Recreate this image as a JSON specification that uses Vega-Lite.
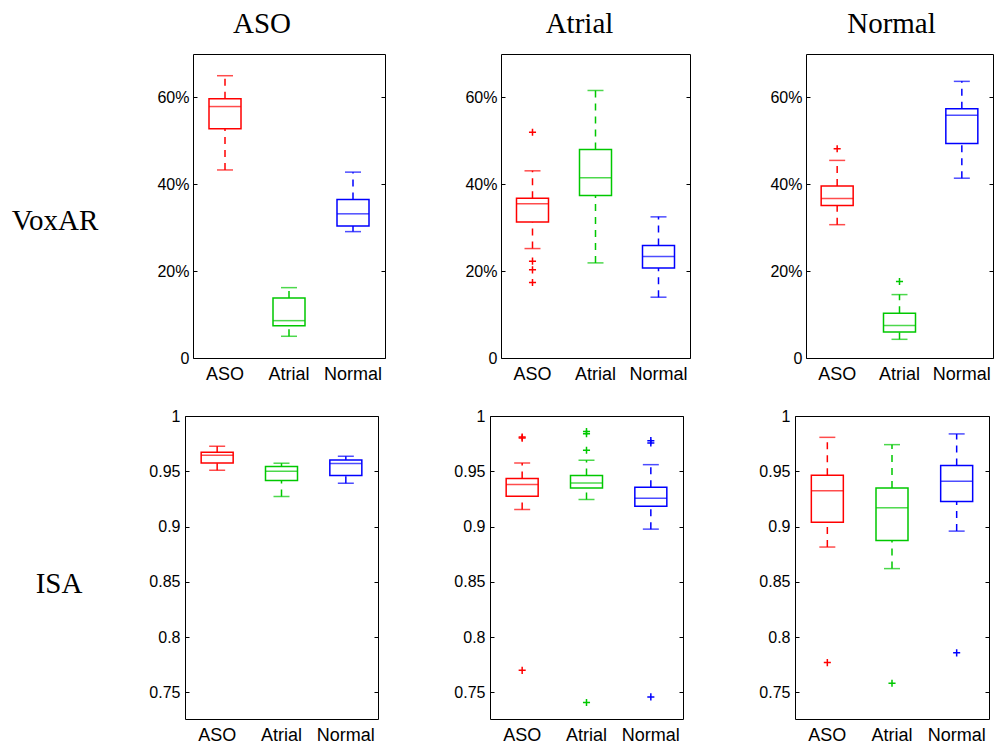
{
  "$schema": "https://vega.github.io/schema/vega-lite/v6.json",
  "padding": {"left": 0, "top": 9, "right": 0, "bottom": 0},
  "background": "white",
  "datasets": {
    "box": [
      {"row": "VoxAR", "col": "ASO", "group": "ASO", "lower": 0.433, "q1": 0.528, "median": 0.579, "q3": 0.597, "upper": 0.650},
      {"row": "VoxAR", "col": "ASO", "group": "Atrial", "lower": 0.050, "q1": 0.074, "median": 0.086, "q3": 0.138, "upper": 0.162},
      {"row": "VoxAR", "col": "ASO", "group": "Normal", "lower": 0.291, "q1": 0.304, "median": 0.332, "q3": 0.365, "upper": 0.428},
      {"row": "VoxAR", "col": "Atrial", "group": "ASO", "lower": 0.252, "q1": 0.313, "median": 0.355, "q3": 0.368, "upper": 0.431},
      {"row": "VoxAR", "col": "Atrial", "group": "Atrial", "lower": 0.219, "q1": 0.374, "median": 0.415, "q3": 0.480, "upper": 0.616},
      {"row": "VoxAR", "col": "Atrial", "group": "Normal", "lower": 0.140, "q1": 0.207, "median": 0.234, "q3": 0.259, "upper": 0.325},
      {"row": "VoxAR", "col": "Normal", "group": "ASO", "lower": 0.307, "q1": 0.351, "median": 0.367, "q3": 0.396, "upper": 0.455},
      {"row": "VoxAR", "col": "Normal", "group": "Atrial", "lower": 0.043, "q1": 0.060, "median": 0.075, "q3": 0.103, "upper": 0.146},
      {"row": "VoxAR", "col": "Normal", "group": "Normal", "lower": 0.414, "q1": 0.494, "median": 0.559, "q3": 0.574, "upper": 0.637},
      {"row": "ISA", "col": "ASO", "group": "ASO", "lower": 0.951, "q1": 0.9576, "median": 0.9645, "q3": 0.9672, "upper": 0.9726},
      {"row": "ISA", "col": "ASO", "group": "Atrial", "lower": 0.9272, "q1": 0.9416, "median": 0.950, "q3": 0.9543, "upper": 0.9573},
      {"row": "ISA", "col": "ASO", "group": "Normal", "lower": 0.9392, "q1": 0.9461, "median": 0.957, "q3": 0.9603, "upper": 0.9636},
      {"row": "ISA", "col": "Atrial", "group": "ASO", "lower": 0.9155, "q1": 0.9275, "median": 0.938, "q3": 0.9434, "upper": 0.9576},
      {"row": "ISA", "col": "Atrial", "group": "Atrial", "lower": 0.9245, "q1": 0.935, "median": 0.9395, "q3": 0.9461, "upper": 0.960},
      {"row": "ISA", "col": "Atrial", "group": "Normal", "lower": 0.8977, "q1": 0.9185, "median": 0.9257, "q3": 0.9356, "upper": 0.956},
      {"row": "ISA", "col": "Normal", "group": "ASO", "lower": 0.8815, "q1": 0.904, "median": 0.9323, "q3": 0.9465, "upper": 0.9807},
      {"row": "ISA", "col": "Normal", "group": "Atrial", "lower": 0.862, "q1": 0.8875, "median": 0.917, "q3": 0.935, "upper": 0.9741},
      {"row": "ISA", "col": "Normal", "group": "Normal", "lower": 0.8959, "q1": 0.9227, "median": 0.941, "q3": 0.9552, "upper": 0.9838}
    ],
    "out": [
      {"row": "VoxAR", "col": "Atrial", "group": "ASO", "value": 0.520},
      {"row": "VoxAR", "col": "Atrial", "group": "ASO", "value": 0.223},
      {"row": "VoxAR", "col": "Atrial", "group": "ASO", "value": 0.203},
      {"row": "VoxAR", "col": "Atrial", "group": "ASO", "value": 0.174},
      {"row": "VoxAR", "col": "Normal", "group": "ASO", "value": 0.482},
      {"row": "VoxAR", "col": "Normal", "group": "Atrial", "value": 0.176},
      {"row": "ISA", "col": "Atrial", "group": "ASO", "value": 0.981},
      {"row": "ISA", "col": "Atrial", "group": "ASO", "value": 0.980},
      {"row": "ISA", "col": "Atrial", "group": "ASO", "value": 0.770},
      {"row": "ISA", "col": "Atrial", "group": "Atrial", "value": 0.986},
      {"row": "ISA", "col": "Atrial", "group": "Atrial", "value": 0.984},
      {"row": "ISA", "col": "Atrial", "group": "Atrial", "value": 0.969},
      {"row": "ISA", "col": "Atrial", "group": "Atrial", "value": 0.741},
      {"row": "ISA", "col": "Atrial", "group": "Normal", "value": 0.9777},
      {"row": "ISA", "col": "Atrial", "group": "Normal", "value": 0.9756},
      {"row": "ISA", "col": "Atrial", "group": "Normal", "value": 0.746},
      {"row": "ISA", "col": "Normal", "group": "ASO", "value": 0.777},
      {"row": "ISA", "col": "Normal", "group": "Atrial", "value": 0.7584},
      {"row": "ISA", "col": "Normal", "group": "Normal", "value": 0.7858}
    ]
  },
  "vconcat": [
    {
      "spacing": 46,
      "hconcat": [
        {
          "width": 110, "height": 306,
          "view": {"stroke": null},
          "data": {"values": [{"label": "VoxAR"}]},
          "mark": {"type": "text", "font": "Liberation Serif", "fontSize": 29, "baseline": "top", "align": "center", "color": "black"},
          "encoding": {"text": {"field": "label", "type": "nominal"}}
        },
        {
          "spacing": 78,
          "hconcat": [
            {
              "width": 192, "height": 304,
              "title": {"text": "ASO", "dx": -27},
              "data": {"name": "box"},
              "transform": [{"filter": "datum.row === 'VoxAR' && datum.col === 'ASO'"}],
              "encoding": {
                "x": {"field": "group", "type": "nominal", "scale": {"domain": ["ASO", "Atrial", "Normal"], "paddingInner": 0, "paddingOuter": 0}, "axis": {"orient": "bottom", "ticks": false, "domain": false, "labelAngle": 0, "labelPadding": 7, "title": null}},
                "color": {"field": "group", "type": "nominal", "scale": {"domain": ["ASO", "Atrial", "Normal"], "range": ["#ff0000", "#00c800", "#0000ff"]}, "legend": null}
              },
              "layer": [
                {"mark": {"type": "rule", "strokeDash": [7, 6], "strokeWidth": 1.5}, "encoding": {"y": {"field": "q3", "type": "quantitative", "scale": {"domain": [0, 0.7], "nice": false, "zero": false}, "axis": {"orient": "left", "values": [0, 0.2, 0.4, 0.6], "labelExpr": "datum.value === 0 ? '0' : format(datum.value, '.0%')", "tickSize": -4, "labelPadding": 8, "domain": false, "grid": false, "title": null}}, "y2": {"field": "upper"}}},
                {"mark": {"type": "rule", "strokeDash": [7, 6], "strokeWidth": 1.5}, "encoding": {"y": {"field": "lower", "type": "quantitative", "axis": {"orient": "right", "values": [0, 0.2, 0.4, 0.6], "labels": false, "tickSize": -4, "domain": false, "grid": false, "title": null}}, "y2": {"field": "q1"}}},
                {"mark": {"type": "tick", "size": 16, "thickness": 1.5}, "encoding": {"y": {"field": "upper", "type": "quantitative", "axis": null}}},
                {"mark": {"type": "tick", "size": 16, "thickness": 1.5}, "encoding": {"y": {"field": "lower", "type": "quantitative", "axis": null}}},
                {"mark": {"type": "bar", "filled": false, "strokeWidth": 1.5, "width": 32}, "encoding": {"y": {"field": "q1", "type": "quantitative", "axis": null}, "y2": {"field": "q3"}}},
                {"mark": {"type": "tick", "size": 32, "thickness": 1.5}, "encoding": {"y": {"field": "median", "type": "quantitative", "axis": null}}}
              ],
              "resolve": {"axis": {"y": "independent"}}
            },
            {
              "width": 189, "height": 304,
              "title": {"text": "Atrial", "dx": -16},
              "data": {"name": "box"},
              "transform": [{"filter": "datum.row === 'VoxAR' && datum.col === 'Atrial'"}],
              "encoding": {
                "x": {"field": "group", "type": "nominal", "scale": {"domain": ["ASO", "Atrial", "Normal"], "paddingInner": 0, "paddingOuter": 0}, "axis": {"orient": "bottom", "ticks": false, "domain": false, "labelAngle": 0, "labelPadding": 7, "title": null}},
                "color": {"field": "group", "type": "nominal", "scale": {"domain": ["ASO", "Atrial", "Normal"], "range": ["#ff0000", "#00c800", "#0000ff"]}, "legend": null}
              },
              "layer": [
                {"mark": {"type": "rule", "strokeDash": [7, 6], "strokeWidth": 1.5}, "encoding": {"y": {"field": "q3", "type": "quantitative", "scale": {"domain": [0, 0.7], "nice": false, "zero": false}, "axis": {"orient": "left", "values": [0, 0.2, 0.4, 0.6], "labelExpr": "datum.value === 0 ? '0' : format(datum.value, '.0%')", "tickSize": -4, "labelPadding": 8, "domain": false, "grid": false, "title": null}}, "y2": {"field": "upper"}}},
                {"mark": {"type": "rule", "strokeDash": [7, 6], "strokeWidth": 1.5}, "encoding": {"y": {"field": "lower", "type": "quantitative", "axis": {"orient": "right", "values": [0, 0.2, 0.4, 0.6], "labels": false, "tickSize": -4, "domain": false, "grid": false, "title": null}}, "y2": {"field": "q1"}}},
                {"mark": {"type": "tick", "size": 16, "thickness": 1.5}, "encoding": {"y": {"field": "upper", "type": "quantitative", "axis": null}}},
                {"mark": {"type": "tick", "size": 16, "thickness": 1.5}, "encoding": {"y": {"field": "lower", "type": "quantitative", "axis": null}}},
                {"mark": {"type": "bar", "filled": false, "strokeWidth": 1.5, "width": 32}, "encoding": {"y": {"field": "q1", "type": "quantitative", "axis": null}, "y2": {"field": "q3"}}},
                {"mark": {"type": "tick", "size": 32, "thickness": 1.5}, "encoding": {"y": {"field": "median", "type": "quantitative", "axis": null}}},
                {"data": {"name": "out"}, "transform": [{"filter": "datum.row === 'VoxAR' && datum.col === 'Atrial'"}], "mark": {"type": "point", "shape": "M-1,0L1,0M0,-1L0,1", "filled": false, "size": 50, "strokeWidth": 1.5, "opacity": 1}, "encoding": {"y": {"field": "value", "type": "quantitative", "axis": null}}}
              ],
              "resolve": {"axis": {"y": "independent"}}
            },
            {
              "width": 187, "height": 304,
              "title": {"text": "Normal", "dx": -8},
              "data": {"name": "box"},
              "transform": [{"filter": "datum.row === 'VoxAR' && datum.col === 'Normal'"}],
              "encoding": {
                "x": {"field": "group", "type": "nominal", "scale": {"domain": ["ASO", "Atrial", "Normal"], "paddingInner": 0, "paddingOuter": 0}, "axis": {"orient": "bottom", "ticks": false, "domain": false, "labelAngle": 0, "labelPadding": 7, "title": null}},
                "color": {"field": "group", "type": "nominal", "scale": {"domain": ["ASO", "Atrial", "Normal"], "range": ["#ff0000", "#00c800", "#0000ff"]}, "legend": null}
              },
              "layer": [
                {"mark": {"type": "rule", "strokeDash": [7, 6], "strokeWidth": 1.5}, "encoding": {"y": {"field": "q3", "type": "quantitative", "scale": {"domain": [0, 0.7], "nice": false, "zero": false}, "axis": {"orient": "left", "values": [0, 0.2, 0.4, 0.6], "labelExpr": "datum.value === 0 ? '0' : format(datum.value, '.0%')", "tickSize": -4, "labelPadding": 8, "domain": false, "grid": false, "title": null}}, "y2": {"field": "upper"}}},
                {"mark": {"type": "rule", "strokeDash": [7, 6], "strokeWidth": 1.5}, "encoding": {"y": {"field": "lower", "type": "quantitative", "axis": {"orient": "right", "values": [0, 0.2, 0.4, 0.6], "labels": false, "tickSize": -4, "domain": false, "grid": false, "title": null}}, "y2": {"field": "q1"}}},
                {"mark": {"type": "tick", "size": 16, "thickness": 1.5}, "encoding": {"y": {"field": "upper", "type": "quantitative", "axis": null}}},
                {"mark": {"type": "tick", "size": 16, "thickness": 1.5}, "encoding": {"y": {"field": "lower", "type": "quantitative", "axis": null}}},
                {"mark": {"type": "bar", "filled": false, "strokeWidth": 1.5, "width": 32}, "encoding": {"y": {"field": "q1", "type": "quantitative", "axis": null}, "y2": {"field": "q3"}}},
                {"mark": {"type": "tick", "size": 32, "thickness": 1.5}, "encoding": {"y": {"field": "median", "type": "quantitative", "axis": null}}},
                {"data": {"name": "out"}, "transform": [{"filter": "datum.row === 'VoxAR' && datum.col === 'Normal'"}], "mark": {"type": "point", "shape": "M-1,0L1,0M0,-1L0,1", "filled": false, "size": 50, "strokeWidth": 1.5, "opacity": 1}, "encoding": {"y": {"field": "value", "type": "quantitative", "axis": null}}}
              ],
              "resolve": {"axis": {"y": "independent"}}
            }
          ]
        }
      ]
    },
    {
      "spacing": 30,
      "hconcat": [
        {
          "width": 118, "height": 308,
          "view": {"stroke": null},
          "data": {"values": [{"label": "ISA"}]},
          "mark": {"type": "text", "font": "Liberation Serif", "fontSize": 29, "baseline": "top", "align": "center", "color": "black"},
          "encoding": {"text": {"field": "label", "type": "nominal"}}
        },
        {
          "spacing": 74,
          "hconcat": [
            {
              "width": 193, "height": 303,
              "data": {"name": "box"},
              "transform": [{"filter": "datum.row === 'ISA' && datum.col === 'ASO'"}],
              "encoding": {
                "x": {"field": "group", "type": "nominal", "scale": {"domain": ["ASO", "Atrial", "Normal"], "paddingInner": 0, "paddingOuter": 0}, "axis": {"orient": "bottom", "ticks": false, "domain": false, "labelAngle": 0, "labelPadding": 7, "title": null}},
                "color": {"field": "group", "type": "nominal", "scale": {"domain": ["ASO", "Atrial", "Normal"], "range": ["#ff0000", "#00c800", "#0000ff"]}, "legend": null}
              },
              "layer": [
                {"mark": {"type": "rule", "strokeDash": [7, 6], "strokeWidth": 1.5}, "encoding": {"y": {"field": "q3", "type": "quantitative", "scale": {"domain": [0.726, 1], "nice": false, "zero": false}, "axis": {"orient": "left", "values": [0.75, 0.8, 0.85, 0.9, 0.95, 1], "format": "~g", "tickSize": -4, "labelPadding": 9, "domain": false, "grid": false, "title": null}}, "y2": {"field": "upper"}}},
                {"mark": {"type": "rule", "strokeDash": [7, 6], "strokeWidth": 1.5}, "encoding": {"y": {"field": "lower", "type": "quantitative", "axis": {"orient": "right", "values": [0.75, 0.8, 0.85, 0.9, 0.95, 1], "labels": false, "tickSize": -4, "domain": false, "grid": false, "title": null}}, "y2": {"field": "q1"}}},
                {"mark": {"type": "tick", "size": 16, "thickness": 1.5}, "encoding": {"y": {"field": "upper", "type": "quantitative", "axis": null}}},
                {"mark": {"type": "tick", "size": 16, "thickness": 1.5}, "encoding": {"y": {"field": "lower", "type": "quantitative", "axis": null}}},
                {"mark": {"type": "bar", "filled": false, "strokeWidth": 1.5, "width": 32}, "encoding": {"y": {"field": "q1", "type": "quantitative", "axis": null}, "y2": {"field": "q3"}}},
                {"mark": {"type": "tick", "size": 32, "thickness": 1.5}, "encoding": {"y": {"field": "median", "type": "quantitative", "axis": null}}}
              ],
              "resolve": {"axis": {"y": "independent"}}
            },
            {
              "width": 193, "height": 303,
              "data": {"name": "box"},
              "transform": [{"filter": "datum.row === 'ISA' && datum.col === 'Atrial'"}],
              "encoding": {
                "x": {"field": "group", "type": "nominal", "scale": {"domain": ["ASO", "Atrial", "Normal"], "paddingInner": 0, "paddingOuter": 0}, "axis": {"orient": "bottom", "ticks": false, "domain": false, "labelAngle": 0, "labelPadding": 7, "title": null}},
                "color": {"field": "group", "type": "nominal", "scale": {"domain": ["ASO", "Atrial", "Normal"], "range": ["#ff0000", "#00c800", "#0000ff"]}, "legend": null}
              },
              "layer": [
                {"mark": {"type": "rule", "strokeDash": [7, 6], "strokeWidth": 1.5}, "encoding": {"y": {"field": "q3", "type": "quantitative", "scale": {"domain": [0.726, 1], "nice": false, "zero": false}, "axis": {"orient": "left", "values": [0.75, 0.8, 0.85, 0.9, 0.95, 1], "format": "~g", "tickSize": -4, "labelPadding": 9, "domain": false, "grid": false, "title": null}}, "y2": {"field": "upper"}}},
                {"mark": {"type": "rule", "strokeDash": [7, 6], "strokeWidth": 1.5}, "encoding": {"y": {"field": "lower", "type": "quantitative", "axis": {"orient": "right", "values": [0.75, 0.8, 0.85, 0.9, 0.95, 1], "labels": false, "tickSize": -4, "domain": false, "grid": false, "title": null}}, "y2": {"field": "q1"}}},
                {"mark": {"type": "tick", "size": 16, "thickness": 1.5}, "encoding": {"y": {"field": "upper", "type": "quantitative", "axis": null}}},
                {"mark": {"type": "tick", "size": 16, "thickness": 1.5}, "encoding": {"y": {"field": "lower", "type": "quantitative", "axis": null}}},
                {"mark": {"type": "bar", "filled": false, "strokeWidth": 1.5, "width": 32}, "encoding": {"y": {"field": "q1", "type": "quantitative", "axis": null}, "y2": {"field": "q3"}}},
                {"mark": {"type": "tick", "size": 32, "thickness": 1.5}, "encoding": {"y": {"field": "median", "type": "quantitative", "axis": null}}},
                {"data": {"name": "out"}, "transform": [{"filter": "datum.row === 'ISA' && datum.col === 'Atrial'"}], "mark": {"type": "point", "shape": "M-1,0L1,0M0,-1L0,1", "filled": false, "size": 50, "strokeWidth": 1.5, "opacity": 1}, "encoding": {"y": {"field": "value", "type": "quantitative", "axis": null}}}
              ],
              "resolve": {"axis": {"y": "independent"}}
            },
            {
              "width": 194, "height": 303,
              "data": {"name": "box"},
              "transform": [{"filter": "datum.row === 'ISA' && datum.col === 'Normal'"}],
              "encoding": {
                "x": {"field": "group", "type": "nominal", "scale": {"domain": ["ASO", "Atrial", "Normal"], "paddingInner": 0, "paddingOuter": 0}, "axis": {"orient": "bottom", "ticks": false, "domain": false, "labelAngle": 0, "labelPadding": 7, "title": null}},
                "color": {"field": "group", "type": "nominal", "scale": {"domain": ["ASO", "Atrial", "Normal"], "range": ["#ff0000", "#00c800", "#0000ff"]}, "legend": null}
              },
              "layer": [
                {"mark": {"type": "rule", "strokeDash": [7, 6], "strokeWidth": 1.5}, "encoding": {"y": {"field": "q3", "type": "quantitative", "scale": {"domain": [0.726, 1], "nice": false, "zero": false}, "axis": {"orient": "left", "values": [0.75, 0.8, 0.85, 0.9, 0.95, 1], "format": "~g", "tickSize": -4, "labelPadding": 9, "domain": false, "grid": false, "title": null}}, "y2": {"field": "upper"}}},
                {"mark": {"type": "rule", "strokeDash": [7, 6], "strokeWidth": 1.5}, "encoding": {"y": {"field": "lower", "type": "quantitative", "axis": {"orient": "right", "values": [0.75, 0.8, 0.85, 0.9, 0.95, 1], "labels": false, "tickSize": -4, "domain": false, "grid": false, "title": null}}, "y2": {"field": "q1"}}},
                {"mark": {"type": "tick", "size": 16, "thickness": 1.5}, "encoding": {"y": {"field": "upper", "type": "quantitative", "axis": null}}},
                {"mark": {"type": "tick", "size": 16, "thickness": 1.5}, "encoding": {"y": {"field": "lower", "type": "quantitative", "axis": null}}},
                {"mark": {"type": "bar", "filled": false, "strokeWidth": 1.5, "width": 32}, "encoding": {"y": {"field": "q1", "type": "quantitative", "axis": null}, "y2": {"field": "q3"}}},
                {"mark": {"type": "tick", "size": 32, "thickness": 1.5}, "encoding": {"y": {"field": "median", "type": "quantitative", "axis": null}}},
                {"data": {"name": "out"}, "transform": [{"filter": "datum.row === 'ISA' && datum.col === 'Normal'"}], "mark": {"type": "point", "shape": "M-1,0L1,0M0,-1L0,1", "filled": false, "size": 50, "strokeWidth": 1.5, "opacity": 1}, "encoding": {"y": {"field": "value", "type": "quantitative", "axis": null}}}
              ],
              "resolve": {"axis": {"y": "independent"}}
            }
          ]
        }
      ]
    }
  ],
  "spacing": 23,
  "config": {
    "view": {"stroke": "black", "strokeWidth": 1},
    "axis": {"labelFont": "Liberation Sans", "labelFontSize": 16, "labelColor": "black", "tickColor": "black", "tickWidth": 1},
    "axisX": {"labelFontSize": 18},
    "title": {"font": "Liberation Serif", "fontSize": 29, "fontWeight": "normal", "color": "black", "baseline": "alphabetic", "offset": 15, "frame": "group", "anchor": "middle"}
  }
}
